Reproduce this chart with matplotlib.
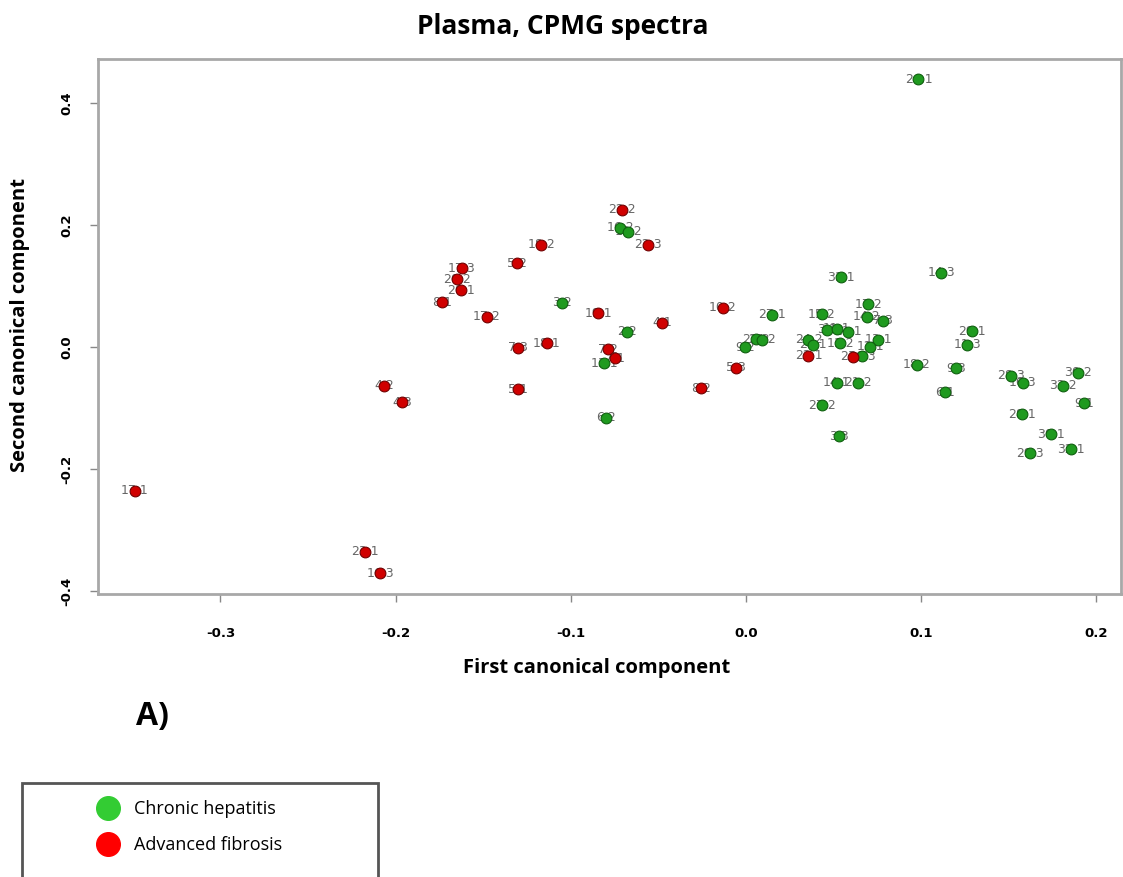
import matplotlib
matplotlib.use("Agg")
import matplotlib.pyplot as plt
from matplotlib.lines import Line2D
from matplotlib.patches import Rectangle

# ---- data ----
green_x = [0.0984, -0.0719, -0.0672, -0.1052, -0.0681, -0.0809, -0.0799, 0.0542, 0.1113,
           0.0147, 0.0432, 0.0698, 0.0689, 0.0784, 0.0461, 0.0518, 0.0584, 0.0356, 0.0384,
           0.0537, 0.0755, 0.0708, 0.0660, 0.0974, 0.0518, 0.0641, 0.0432, 0.0533, -0.0006,
           0.0057, 0.0090, 0.1136, 0.1199, 0.1288, 0.1263, 0.1511, 0.1579, 0.1897, 0.1811,
           0.1931, 0.1574, 0.1741, 0.1853, 0.1621]
green_y = [0.4393, 0.1956, 0.1890, 0.0726, 0.0251, -0.0268, -0.1159, 0.1142, 0.1218,
           0.0525, 0.0536, 0.0700, 0.0497, 0.0431, 0.0279, 0.0300, 0.0246, 0.0115, 0.0033,
           0.0060, 0.0115, 0.0005, -0.0148, -0.0295, -0.0585, -0.0585, -0.0951, -0.1459, -0.0005,
           0.0131, 0.0115, -0.0740, -0.0350, 0.0262, 0.0033, -0.0475, -0.0585, -0.0421, -0.0639,
           -0.0923, -0.1103, -0.1431, -0.1677, -0.1743]
green_lbl = ["24.1", "16.2", "19.2", "3.2", "2.2", "13.1", "6.2", "31.1", "14.3",
             "27.1", "15.2", "17.2", "14.2", "7.3", "3.1", "11.1", "21.1", "24.2", "26.1",
             "11.2", "13.1", "12.1", "26.3", "18.2", "14.1", "21.2", "27.2", "3.3", "9.2",
             "21.2", "25.2", "6.1", "9.3", "29.1", "11.3", "28.3", "16.3", "30.2", "32.2",
             "9.1", "28.1", "30.1", "32.1", "29.3"]

red_x = [-0.0708, -0.0561, -0.1170, -0.1309, -0.1623, -0.1648, -0.1629, -0.1733, -0.1480,
         -0.0843, -0.0481, -0.1303, -0.1138, -0.0789, -0.0748, -0.1303, -0.2064, -0.1965,
         -0.3488, -0.2175, -0.2089, -0.0133, -0.0057, -0.0259, 0.0356, 0.0613]
red_y = [0.2246, 0.1680, 0.1680, 0.1370, 0.1290, 0.1110, 0.0934, 0.0733, 0.0497,
         0.0552, 0.0398, -0.0011, 0.0060, -0.0038, -0.0186, -0.0693, -0.0639, -0.0907,
         -0.2355, -0.3355, -0.3710, 0.0645, -0.0339, -0.0678, -0.0142, -0.0158]
red_lbl = ["22.2", "22.3", "18.2", "5.2", "17.3", "20.2", "20.1", "8.1", "17.2",
           "19.1", "4.1", "7.3", "18.1", "7.2", "7.1", "5.1", "4.2", "4.3",
           "17.1", "23.1", "16.3", "10.2", "5.3", "8.2", "22.1", "23.3"]

x_ticks = [-0.3, -0.2, -0.1, 0.0, 0.1, 0.2]
y_ticks = [-0.4, -0.2, 0.0, 0.2, 0.4]
groups = ["Chronic hepatitis", "Advanced fibrosis"]

# ---- figure ----
W, H = 1123, 877
fig = plt.figure(figsize=(W / 100, H / 100), dpi=100)
L, R, T, B = 98, 1121, 59, 594
ax = fig.add_axes([L / W, 1 - B / H, (R - L) / W, (B - T) / H])
ax.set_xlim(-0.3699, 0.2140)
ax.set_ylim(-0.4049, 0.4721)

lbl_font = dict(fontsize=9, color="#666666", ha="center", va="center", zorder=2,
                family="DejaVu Sans")
for x, y, t in zip(green_x, green_y, green_lbl):
    ax.text(x, y, t, **lbl_font)
for x, y, t in zip(red_x, red_y, red_lbl):
    ax.text(x, y, t, **lbl_font)

ax.scatter(green_x, green_y, s=60, c="#1f9a1f", edgecolors="#0f5f0f", linewidths=0.8, zorder=3)
ax.scatter(red_x, red_y, s=60, c="#d00000", edgecolors="#700000", linewidths=0.8, zorder=4)

for s in ax.spines.values():
    s.set_color("#a8a8a8")
    s.set_linewidth(2)
ax.set_xticks(x_ticks)
ax.set_yticks(y_ticks)
ax.set_xticklabels([f"{v:.1f}" for v in x_ticks], fontsize=9.5, fontweight="bold", family="DejaVu Sans")
ax.set_yticklabels([f"{v:.1f}" for v in y_ticks], fontsize=9.5, fontweight="bold", family="DejaVu Sans",
                   rotation=90, va="center")
ax.tick_params(axis="x", direction="out", length=6, width=1, color="#888888", pad=18)
ax.tick_params(axis="y", direction="out", length=6, width=1, color="#888888", pad=12)

title_fam = ["Open Sans", "DejaVu Sans"]
fig.text(563 / W, 1 - 27 / H, "Plasma, CPMG spectra", ha="center", va="center",
         fontsize=19, fontweight="bold", family=title_fam)
fig.text(597 / W, 1 - 668 / H, "First canonical component", ha="center", va="center",
         fontsize=14.5, fontweight="bold", family=title_fam)
fig.text(20 / W, 1 - 325 / H, "Second canonical component", ha="center", va="center",
         fontsize=14.5, fontweight="bold", family=title_fam, rotation=90)
fig.text(152 / W, 1 - 717 / H, "A)", ha="center", va="center",
         fontsize=23, fontweight="bold", family=title_fam)

# legend box
fig.patches.append(Rectangle((22 / W, -0.02), (378 - 22) / W, (877 - 783) / H + 0.02,
                             transform=fig.transFigure, fill=False, edgecolor="#555555",
                             linewidth=2))
handles = [Line2D([], [], marker="o", linestyle="", markersize=17,
                  markerfacecolor="#33cc33", markeredgecolor="#33cc33"),
           Line2D([], [], marker="o", linestyle="", markersize=17,
                  markerfacecolor="#ff0000", markeredgecolor="#ff0000")]
fig.legend(handles, groups, loc="center left", bbox_to_anchor=(74 / W, 1 - 827 / H),
           frameon=False, handletextpad=0.45, labelspacing=1.0,
           prop={"family": title_fam, "size": 13})

fig.savefig("out.png", dpi=100, facecolor="white")
